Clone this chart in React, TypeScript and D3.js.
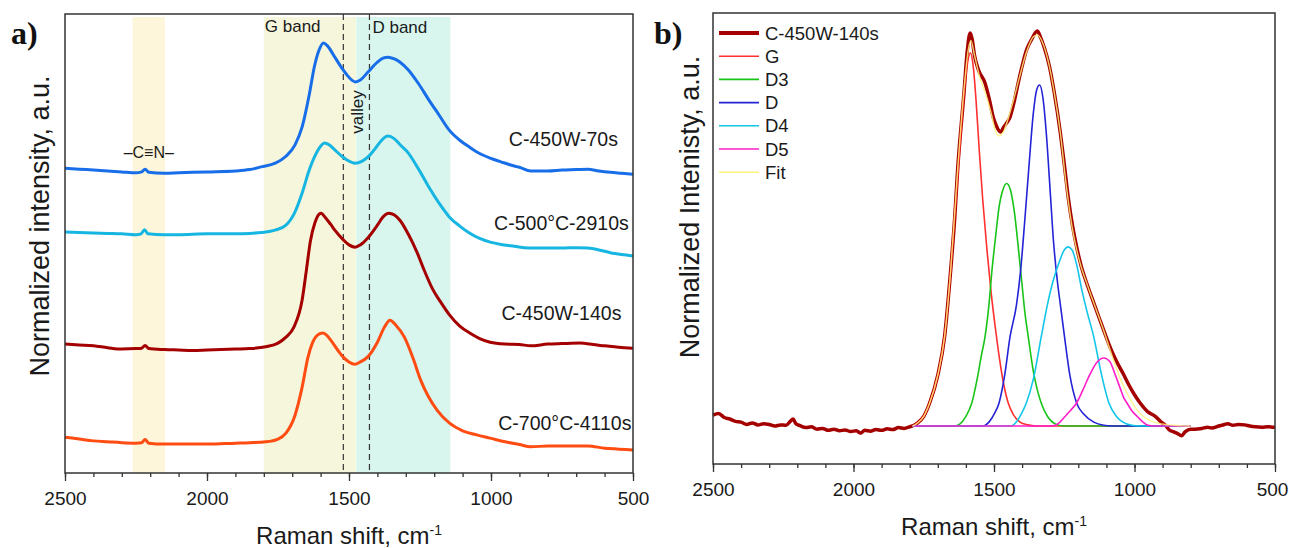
import * as d3 from 'd3';
import React, { useEffect, useRef } from 'react';

type Pt = [number, number];

// ---------- panel a: Raman spectra [shift cm-1, normalized intensity a.u.] ----------
const spec70s: Pt[] = [
  [2500, 6.64], [2450, 6.62], [2400, 6.6], [2350, 6.58], [2300, 6.56], [2250, 6.54], [2230, 6.56], [2218, 6.62],
  [2205, 6.55], [2150, 6.53], [2100, 6.54], [2000, 6.56], [1900, 6.58], [1850, 6.61], [1809, 6.67], [1760, 6.75],
  [1722, 6.9], [1690, 7.15], [1665, 7.54], [1640, 8.24], [1622, 8.85], [1605, 9.22], [1590, 9.37], [1575, 9.3],
  [1550, 9.06], [1525, 8.82], [1507, 8.67], [1490, 8.56], [1478, 8.52], [1460, 8.56], [1434, 8.73], [1400, 8.95],
  [1380, 9.04], [1363, 9.06], [1340, 9.02], [1320, 8.95], [1291, 8.78], [1255, 8.48], [1219, 8.13], [1183, 7.8],
  [1147, 7.47], [1110, 7.25], [1076, 7.1], [1040, 6.96], [1003, 6.86], [965, 6.78], [931, 6.71], [900, 6.66],
  [860, 6.58], [800, 6.58], [750, 6.6], [700, 6.61], [659, 6.62], [620, 6.58], [580, 6.55], [540, 6.53], [500, 6.51],
];
const spec2910s: Pt[] = [
  [2500, 5.25], [2450, 5.24], [2400, 5.23], [2350, 5.22], [2300, 5.21], [2250, 5.19], [2232, 5.21], [2220, 5.3],
  [2208, 5.21], [2150, 5.19], [2100, 5.19], [2000, 5.21], [1900, 5.21], [1850, 5.22], [1809, 5.24], [1760, 5.29],
  [1722, 5.4], [1690, 5.69], [1665, 6.1], [1640, 6.6], [1622, 6.88], [1600, 7.12], [1586, 7.19], [1570, 7.15],
  [1550, 7.04], [1525, 6.9], [1507, 6.82], [1478, 6.75], [1455, 6.79], [1434, 6.88], [1410, 7.05], [1385, 7.25],
  [1363, 7.34], [1340, 7.28], [1320, 7.15], [1291, 6.97], [1255, 6.62], [1219, 6.23], [1183, 5.88], [1147, 5.58],
  [1110, 5.38], [1076, 5.23], [1040, 5.11], [1003, 5.03], [965, 4.98], [931, 4.95], [860, 4.9], [800, 4.9],
  [750, 4.9], [700, 4.91], [659, 4.9], [620, 4.86], [580, 4.8], [540, 4.76], [500, 4.73],
];
const spec140s: Pt[] = [
  [2500, 2.81], [2450, 2.79], [2400, 2.77], [2350, 2.73], [2300, 2.7], [2250, 2.71], [2230, 2.72], [2218, 2.78],
  [2205, 2.71], [2150, 2.69], [2100, 2.68], [2050, 2.67], [2000, 2.68], [1950, 2.69], [1900, 2.7], [1850, 2.71],
  [1793, 2.75], [1750, 2.83], [1722, 2.96], [1694, 3.18], [1665, 3.77], [1650, 4.42], [1636, 5.05], [1620, 5.45],
  [1605, 5.64], [1598, 5.66], [1585, 5.58], [1565, 5.42], [1550, 5.29], [1520, 5.08], [1500, 4.97], [1478, 4.92],
  [1460, 4.97], [1434, 5.12], [1400, 5.4], [1380, 5.58], [1360, 5.66], [1340, 5.62], [1320, 5.5], [1291, 5.2],
  [1260, 4.8], [1234, 4.4], [1205, 4.0], [1180, 3.75], [1147, 3.45], [1110, 3.2], [1075, 3.05], [1040, 2.93],
  [1003, 2.85], [950, 2.81], [900, 2.8], [860, 2.77], [800, 2.81], [750, 2.82], [687, 2.83], [640, 2.8],
  [600, 2.77], [550, 2.74], [500, 2.72],
];
const spec4110s: Pt[] = [
  [2500, 0.78], [2450, 0.74], [2400, 0.7], [2350, 0.68], [2300, 0.66], [2250, 0.65], [2230, 0.66], [2218, 0.73],
  [2205, 0.65], [2150, 0.63], [2100, 0.63], [2000, 0.63], [1900, 0.65], [1850, 0.66], [1793, 0.68], [1750, 0.74],
  [1722, 0.87], [1690, 1.26], [1665, 1.87], [1645, 2.51], [1629, 2.83], [1610, 3.01], [1593, 3.05], [1580, 3.01],
  [1565, 2.9], [1540, 2.68], [1521, 2.53], [1500, 2.42], [1480, 2.37], [1460, 2.42], [1434, 2.53], [1400, 2.85],
  [1375, 3.18], [1356, 3.33], [1335, 3.22], [1305, 2.96], [1275, 2.51], [1248, 2.03], [1220, 1.66], [1190, 1.37],
  [1147, 1.09], [1100, 0.92], [1050, 0.83], [1003, 0.76], [950, 0.68], [900, 0.62], [860, 0.57], [800, 0.59],
  [700, 0.59], [659, 0.59], [600, 0.54], [550, 0.52], [500, 0.5],
];
const specNames = ['C-450W-70s', 'C-500°C-2910s', 'C-450W-140s', 'C-700°C-4110s'];
const specColors = ['#176ee8', '#17b6e2', '#a50000', '#ff4c12'];

// shaded regions [from, to] cm-1
const bandRanges: Pt[] = [[2262, 2148], [1800, 1476], [1474, 1143]];
const bandNames = ['', 'G band', 'D band'];
const valleyLines = [1520, 1428];

// ---------- panel b: peak fit of C-450W-140s ----------
const measured140s: Pt[] = [
  [2500, 0.028], [2480, 0.032], [2460, 0.022], [2440, 0.018], [2420, 0.012], [2400, 0.01], [2380, 0.004],
  [2360, 0.008], [2340, 0.003], [2320, 0.006], [2300, 0.004], [2280, 0.0], [2260, 0.003], [2240, 0.002],
  [2225, 0.012], [2215, 0.018], [2205, 0.006], [2190, 0.001], [2170, -0.004], [2150, -0.002], [2130, -0.008],
  [2110, -0.006], [2090, -0.011], [2070, -0.008], [2050, -0.012], [2030, -0.01], [2010, -0.014], [1990, -0.012],
  [1975, -0.018], [1960, -0.011], [1940, -0.013], [1920, -0.009], [1900, -0.011], [1880, -0.007], [1860, -0.009],
  [1840, -0.004], [1820, -0.006], [1801, -0.002], [1785, 0.002], [1772, 0.008], [1750, 0.025], [1729, 0.059],
  [1700, 0.13], [1676, 0.228], [1654, 0.4], [1640, 0.53], [1629, 0.66], [1607, 0.85], [1595, 0.96], [1585, 1.005],
  [1578, 0.99], [1570, 0.95], [1555, 0.91], [1532, 0.877], [1515, 0.83], [1503, 0.79], [1490, 0.765],
  [1477, 0.752], [1465, 0.765], [1455, 0.775], [1443, 0.79], [1428, 0.83], [1414, 0.877], [1400, 0.92],
  [1385, 0.96], [1365, 0.99], [1346, 1.01], [1335, 0.995], [1320, 0.965], [1303, 0.92], [1285, 0.85],
  [1264, 0.75], [1250, 0.67], [1235, 0.58], [1220, 0.51], [1205, 0.455], [1190, 0.41], [1170, 0.365],
  [1145, 0.315], [1125, 0.275], [1102, 0.23], [1080, 0.19], [1060, 0.16], [1041, 0.135], [1020, 0.105],
  [1000, 0.08], [980, 0.059], [955, 0.038], [923, 0.023], [905, 0.01], [890, 0.002], [876, -0.01], [860, -0.015],
  [845, -0.02], [833, -0.025], [820, -0.015], [800, -0.008], [787, -0.008], [760, -0.006], [740, -0.003],
  [726, -0.005], [700, 0.0], [680, 0.004], [668, 0.006], [650, 0.002], [630, 0.004], [608, 0.003], [590, 0.0],
  [570, -0.002], [547, -0.003], [525, -0.002], [500, -0.003],
];
const fitCurve: Pt[] = [
  [1790, 0], [1772, 0.008], [1750, 0.025], [1729, 0.059], [1700, 0.13], [1676, 0.228], [1654, 0.4], [1629, 0.66],
  [1607, 0.86], [1592, 0.96], [1582, 0.985], [1570, 0.95], [1550, 0.89], [1530, 0.85], [1510, 0.8], [1495, 0.755],
  [1482, 0.742], [1468, 0.75], [1450, 0.785], [1430, 0.835], [1410, 0.89], [1385, 0.955], [1360, 0.995],
  [1345, 1.0], [1330, 0.985], [1303, 0.92], [1285, 0.85], [1264, 0.75], [1242, 0.61], [1220, 0.5], [1195, 0.42],
  [1165, 0.355], [1140, 0.305], [1110, 0.245], [1080, 0.18], [1050, 0.12], [1020, 0.075], [990, 0.04],
  [960, 0.02], [920, 0.008], [880, 0.003], [840, 0.001], [800, 0],
];
const peakG: Pt[] = [
  [1790, 0], [1772, 0.008], [1750, 0.025], [1729, 0.059], [1700, 0.13], [1676, 0.228], [1654, 0.4], [1629, 0.64],
  [1610, 0.82], [1596, 0.92], [1584, 0.954], [1574, 0.92], [1564, 0.834], [1552, 0.7], [1540, 0.578], [1525, 0.45],
  [1510, 0.34], [1495, 0.25], [1480, 0.17], [1465, 0.105], [1450, 0.06], [1430, 0.028], [1407, 0.01],
  [1380, 0.003], [1350, 0], [800, 0],
];
const peakD3: Pt[] = [
  [1790, 0], [1640, 0], [1622, 0.005], [1600, 0.025], [1579, 0.059], [1560, 0.12], [1545, 0.18], [1532, 0.228],
  [1518, 0.31], [1507, 0.4], [1495, 0.48], [1482, 0.56], [1468, 0.605], [1455, 0.62], [1442, 0.605], [1428, 0.55],
  [1414, 0.46], [1400, 0.36], [1390, 0.29], [1378, 0.228], [1360, 0.14], [1345, 0.09], [1332, 0.059],
  [1310, 0.025], [1280, 0.005], [1250, 0], [800, 0],
];
const peakD: Pt[] = [
  [1790, 0], [1540, 0], [1518, 0.01], [1500, 0.03], [1482, 0.059], [1462, 0.13], [1443, 0.228], [1420, 0.31],
  [1405, 0.4], [1390, 0.53], [1375, 0.67], [1360, 0.8], [1348, 0.86], [1338, 0.872], [1326, 0.84], [1314, 0.75],
  [1300, 0.6], [1288, 0.47], [1276, 0.38], [1262, 0.3], [1249, 0.228], [1230, 0.13], [1206, 0.059], [1180, 0.03],
  [1145, 0.01], [1110, 0.002], [1080, 0], [800, 0],
];
const peakD4: Pt[] = [
  [1790, 0], [1440, 0], [1421, 0.01], [1400, 0.035], [1385, 0.059], [1360, 0.12], [1332, 0.228], [1310, 0.31],
  [1290, 0.37], [1270, 0.415], [1250, 0.45], [1236, 0.458], [1222, 0.45], [1205, 0.41], [1188, 0.35],
  [1168, 0.29], [1145, 0.228], [1120, 0.14], [1091, 0.059], [1065, 0.025], [1041, 0.01], [1010, 0.002],
  [980, 0], [800, 0],
];
const peakD5: Pt[] = [
  [1790, 0], [1300, 0], [1282, 0.002], [1265, 0.01], [1249, 0.023], [1228, 0.04], [1206, 0.059], [1185, 0.09],
  [1160, 0.13], [1135, 0.162], [1109, 0.174], [1088, 0.165], [1068, 0.13], [1050, 0.095], [1038, 0.072],
  [1027, 0.059], [1008, 0.038], [988, 0.023], [970, 0.01], [952, 0.002], [930, 0], [800, 0],
];
const fitNames = ['C-450W-140s', 'G', 'D3', 'D', 'D4', 'D5', 'Fit'];
const fitColors = ['#a50000', '#ff3030', '#18c418', '#2424d6', '#12c6ea', '#ff1ec8', '#fff27a'];

const majorTicks = [2500, 2000, 1500, 1000, 500];
const minorTicks = d3.range(500, 2501, 100);

const FONT = '"Liberation Sans", Arial, Helvetica, sans-serif';
const INK = '#1a1a1a';

function BottomAxis({ scale, y, nudgeLast = 0 }: { scale: d3.ScaleLinear<number, number>; y: number; nudgeLast?: number }) {
  const ref = useRef<SVGGElement>(null);
  useEffect(() => {
    const g = d3.select(ref.current!);
    g.selectAll('*').remove();
    g.append('g').call(d3.axisBottom(scale).tickValues(minorTicks).tickSize(4).tickSizeOuter(0).tickFormat(() => ''));
    const major = g.append('g').call(
      d3.axisBottom(scale).tickValues(majorTicks).tickSize(8).tickPadding(11).tickSizeOuter(0).tickFormat(d3.format('d'))
    );
    g.selectAll('.domain').remove();
    g.selectAll('line').attr('stroke', '#333').attr('stroke-width', 1.3);
    g.selectAll('text').attr('font-size', 19).attr('font-family', FONT).attr('fill', INK);
    major.selectAll<SVGTextElement, number>('text').filter(d => d === 500).attr('dx', -nudgeLast);
  });
  return <g ref={ref} transform={`translate(0,${y})`} />;
}

function AxisTitle({ x, y }: { x: number; y: number }) {
  return (
    <text x={x} y={y} textAnchor="middle" fontSize={24} fontFamily={FONT} fill={INK}>
      Raman shift, cm
      <tspan dy={-9} fontSize={14}>-1</tspan>
    </text>
  );
}

function PanelA() {
  const left = 65, right = 633, top = 14, bottom = 473;
  const x = d3.scaleLinear().domain([2500, 500]).range([left, right]);
  const y = d3.scaleLinear().domain([0, 10]).range([bottom, top]);
  const line = d3.line<Pt>().x(d => x(d[0])).y(d => y(d[1])).curve(d3.curveMonotoneX);
  const series = [spec70s, spec2910s, spec140s, spec4110s];
  const labelAt: Pt[] = [[745, 7.28], [752, 5.45], [752, 3.49], [740, 1.09]];
  const bandFill = ['#fdf6da', '#f5f6dc', '#d8f5ee'];
  return (
    <g>
      {bandRanges.map((b, i) => (
        <rect key={i} x={x(b[0])} y={top + 3} width={x(b[1]) - x(b[0])} height={bottom - top - 3} fill={bandFill[i]} />
      ))}
      {valleyLines.map(v => (
        <line key={v} x1={x(v)} x2={x(v)} y1={top} y2={bottom} stroke="#333" strokeWidth={1.2} strokeDasharray="6,4" />
      ))}
      {series.map((s, i) => (
        <path key={i} d={line(s) ?? ''} fill="none" stroke={specColors[i]} strokeWidth={3} strokeLinejoin="round" />
      ))}
      {specNames.map((n, i) => (
        <text key={n} x={x(labelAt[i][0])} y={y(labelAt[i][1])} textAnchor="middle" dominantBaseline="central"
          fontSize={19.5} fontFamily={FONT} fill={INK}>{n}</text>
      ))}
      <text x={x(bandRanges[1][0]) + 1} y={26} dominantBaseline="central" fontSize={17} fontFamily={FONT} fill={INK}>{bandNames[1]}</text>
      <text x={x(valleyLines[1]) + 3} y={27} dominantBaseline="central" fontSize={17} fontFamily={FONT} fill={INK}>{bandNames[2]}</text>
      <text transform={`translate(${(x(valleyLines[0]) + x(valleyLines[1])) / 2 + 1},112) rotate(-90)`} textAnchor="middle"
        dominantBaseline="central" fontSize={17} fontFamily={FONT} fill={INK}>valley</text>
      <text x={x(2205)} y={152} textAnchor="middle" dominantBaseline="central" fontSize={16} fontFamily={FONT} fill={INK}>–C≡N–</text>
      <rect x={left} y={top} width={right - left} height={bottom - top} fill="none" stroke="#333" strokeWidth={1.5} />
      <BottomAxis scale={x} y={bottom} />
      <AxisTitle x={(left + right) / 2} y={544} />
      <text transform="translate(40,226) rotate(-90)" textAnchor="middle" dominantBaseline="central" fontSize={27}
        fontFamily={FONT} fill={INK}>Normalized intensity, a.u.</text>
      <text x={11} y={44} fontSize={32} fontWeight="bold" fontFamily='"Liberation Serif", "Times New Roman", serif' fill="#111">a)</text>
    </g>
  );
}

function PanelB() {
  const left = 713, right = 1275, top = 13, bottom = 464;
  const x = d3.scaleLinear().domain([2500, 500]).range([left, right]);
  const y = d3.scaleLinear().domain([-0.097, 1.056]).range([bottom, top]);
  const line = d3.line<Pt>().x(d => x(d[0])).y(d => y(d[1])).curve(d3.curveMonotoneX);
  const peaks = [peakG, peakD3, peakD, peakD4, peakD5];
  return (
    <g>
      <path d={line(measured140s) ?? ''} fill="none" stroke={fitColors[0]} strokeWidth={3.5} strokeLinejoin="round" />
      {peaks.map((p, i) => (
        <path key={i} d={line(p) ?? ''} fill="none" stroke={fitColors[i + 1]} strokeWidth={1.6} />
      ))}
      <path d={line(fitCurve) ?? ''} fill="none" stroke={fitColors[6]} strokeWidth={1.4} opacity={0.85} />
      {fitNames.map((n, i) => {
        const ly = 33 + i * 23.2;
        return (
          <g key={n}>
            <line x1={719} x2={759} y1={ly} y2={ly} stroke={fitColors[i]} strokeWidth={i === 0 ? 4 : 1.6} />
            <text x={765} y={ly} dominantBaseline="central" fontSize={18.5} fontFamily={FONT} fill={INK}>{n}</text>
          </g>
        );
      })}
      <rect x={left} y={top} width={right - left} height={bottom - top} fill="none" stroke="#333" strokeWidth={1.5} />
      <BottomAxis scale={x} y={bottom} nudgeLast={3} />
      <AxisTitle x={(left + right) / 2} y={535} />
      <text transform="translate(690,207) rotate(-90)" textAnchor="middle" dominantBaseline="central" fontSize={27}
        fontFamily={FONT} fill={INK}>Normalized Intenisty, a.u.</text>
      <text x={654} y={44} fontSize={32} fontWeight="bold" fontFamily='"Liberation Serif", "Times New Roman", serif' fill="#111">b)</text>
    </g>
  );
}

export default function App() {
  return (
    <svg width={1289} height={548} style={{ position: 'absolute', left: 0, top: 0, background: '#fff' }}>
      <rect width={1289} height={548} fill="#fff" />
      <PanelA />
      <PanelB />
    </svg>
  );
}
